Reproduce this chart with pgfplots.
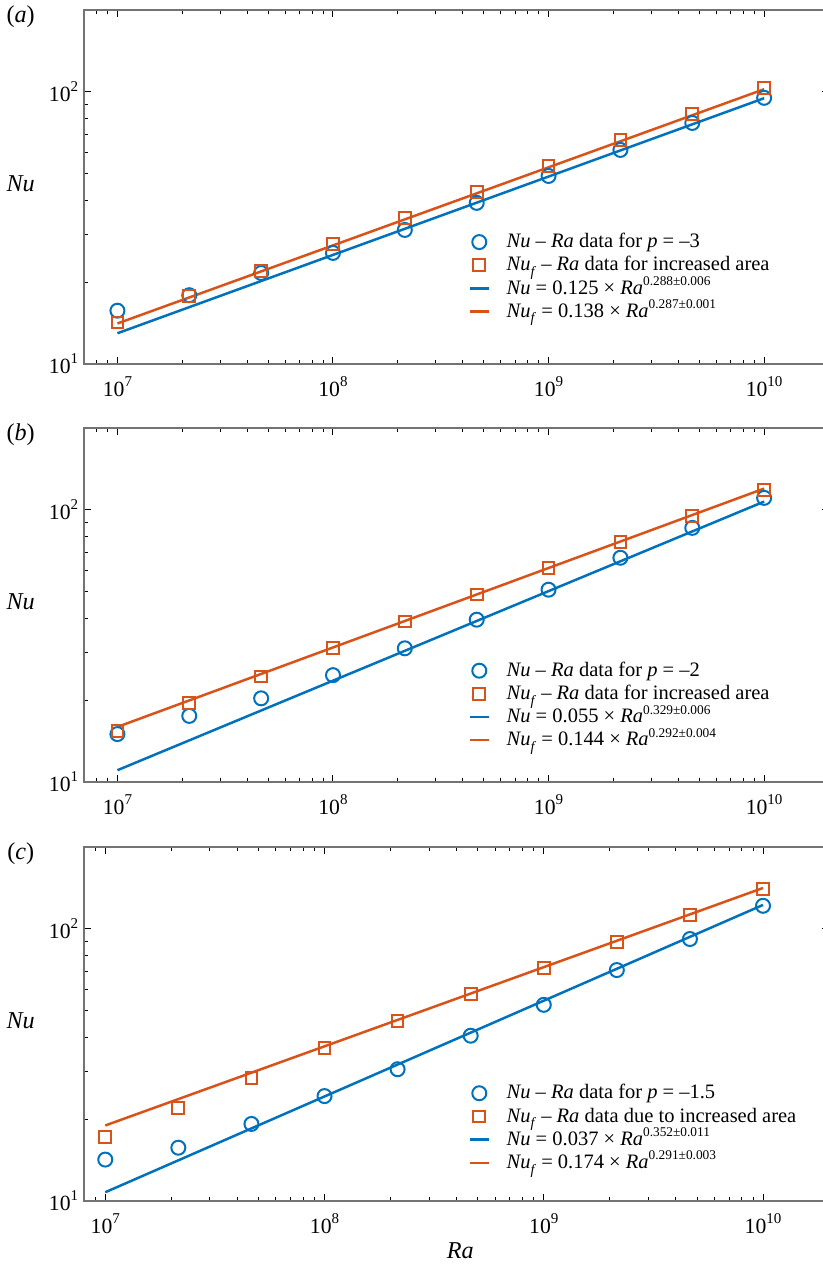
\documentclass[border=0pt]{standalone}
\usepackage{fontspec}
\setmainfont{Liberation Serif}
\usepackage{pgfplots}
\pgfplotsset{compat=1.18}

\definecolor{mblue}{RGB}{0,114,189}
\definecolor{morange}{RGB}{217,83,25}

% super- and subscripts at a fixed size
\newcommand\sps[1]{\raisebox{0.45em}{\fontsize{9}{9}\selectfont #1}}
\newcommand\lsp[1]{\raisebox{0.42em}{\fontsize{8}{8}\selectfont #1}}
\newcommand\sbs[1]{\raisebox{-0.28em}{\fontsize{8.5}{8.5}\selectfont #1}}
\newcommand\Nuf{\textit{Nu}\sbs{\textit{f}}}

\tikzset{lab/.style={font=\fontsize{14.5}{16}\selectfont}}

\pgfplotsset{
  every axis/.append style={
    scale only axis, width=447pt, height=212.4pt,
    xmin=7e6, xmax=2e10, ymin=10, ymax=200,
    anchor=north west, clip=false,
    axis line style={black!55, line width=0.9pt},
    tick style={black, line width=0.6pt},
    tick align=inside,
    major tick length=4pt, minor tick length=2.4pt,
    xtick={1e7,1e8,1e9,1e10},
    xticklabels={10\sps{7},10\sps{8},10\sps{9},10\sps{10}},
    minor xtick={7e6,8e6,9e6,2e7,3e7,4e7,5e7,6e7,7e7,8e7,9e7,
      2e8,3e8,4e8,5e8,6e8,7e8,8e8,9e8,2e9,3e9,4e9,5e9,6e9,7e9,8e9,9e9,2e10},
    ytick={10,100}, yticklabels={10\sps{1},10\sps{2}},
    minor ytick={20,30,40,50,60,70,80,90,200},
    tick label style={font=\fontsize{13}{14}\selectfont},
    xticklabel style={yshift=-4pt},
    legend cell align=left,
    legend image code/.code={\draw[mark repeat=2,mark phase=2,##1]
      plot coordinates {(0cm,0cm) (0.2cm,0cm) (0.4cm,0cm)};},
    legend style={draw=none, fill=none, anchor=north west,
      font=\fontsize{12.3}{13}\selectfont, row sep=1.9pt, column sep=6pt,
      nodes={inner xsep=4pt, inner ysep=0.3pt, text height=9.1pt, text depth=2.3pt}},
  },
  myPts/.style={only marks, line width=1.2pt},
  myFit/.style={no marks, line width=1.5pt},
}

\begin{document}
\begin{tikzpicture}

% ---------- (a) p = -3
\begin{loglogaxis}[at={(50.4pt,-6pt)}, legend style={at={(0.509,0.383)}}]
\addplot[myPts, mblue, mark=o, mark size=4.2pt] coordinates {
  (1e7,15.7) (2.154e7,17.9) (4.642e7,21.6) (1e8,25.6) (2.154e8,31.1)
  (4.642e8,39.1) (1e9,49.1) (2.154e9,61.2) (4.642e9,76.9) (1e10,95.1)};
\addlegendentry{\textit{Nu} – \textit{Ra} data for \textit{p} = –3}
\addplot[myPts, morange, mark=square, mark size=3.5pt] coordinates {
  (1e7,14.2) (2.154e7,17.8) (4.642e7,22.0) (1e8,27.6) (2.154e8,34.4)
  (4.642e8,42.9) (1e9,53.5) (2.154e9,66.7) (4.642e9,83.0) (1e10,103.5)};
\addlegendentry{\Nuf{} – \textit{Ra} data for increased area}
\addplot[myFit, mblue] coordinates {(1e7,12.97) (1e10,94.8)};
\addlegendentry{\textit{Nu} = 0.125 × \textit{Ra}\lsp{0.288±0.006}}
\addplot[myFit, morange] coordinates {(1e7,14.09) (1e10,102.3)};
\addlegendentry{\Nuf{} = 0.138 × \textit{Ra}\lsp{0.287±0.001}}
\node[lab] at (rel axis cs:-0.085,0.98) {(\textit{a})};
\node[lab] at (rel axis cs:-0.085,0.51) {\textit{Nu}};
\end{loglogaxis}

% ---------- (b) p = -2
\begin{loglogaxis}[at={(50.4pt,-256.8pt)}, legend style={at={(0.509,0.353)}}]
\addplot[myPts, mblue, mark=o, mark size=4.2pt] coordinates {
  (1e7,15.0) (2.154e7,17.5) (4.642e7,20.3) (1e8,24.7) (2.154e8,31.0)
  (4.642e8,39.5) (1e9,50.9) (2.154e9,66.7) (4.642e9,85.9) (1e10,110.7)};
\addlegendentry{\textit{Nu} – \textit{Ra} data for \textit{p} = –2}
\addplot[myPts, morange, mark=square, mark size=3.5pt] coordinates {
  (1e7,15.4) (2.154e7,19.5) (4.642e7,24.4) (1e8,31.0) (2.154e8,38.9)
  (4.642e8,48.9) (1e9,61.3) (2.154e9,76.4) (4.642e9,95.1) (1e10,118.3)};
\addlegendentry{\Nuf{} – \textit{Ra} data for increased area}
\addplot[myFit, mblue] coordinates {(1e7,11.05) (1e10,107.3)};
\addlegendentry{\textit{Nu} = 0.055 × \textit{Ra}\lsp{0.329±0.006}}
\addplot[myFit, morange] coordinates {(1e7,15.94) (1e10,119.8)};
\addlegendentry{\Nuf{} = 0.144 × \textit{Ra}\lsp{0.292±0.004}}
\node[lab] at (rel axis cs:-0.085,0.98) {(\textit{b})};
\node[lab] at (rel axis cs:-0.085,0.51) {\textit{Nu}};
\end{loglogaxis}

% ---------- (c) p = -1.5
\begin{loglogaxis}[at={(50.4pt,-508.2pt)}, xmin=8e6, legend style={at={(0.509,0.343)}}]
\addplot[myPts, mblue, mark=o, mark size=4.2pt] coordinates {
  (1e7,14.2) (2.154e7,15.7) (4.642e7,19.2) (1e8,24.3) (2.154e8,30.5)
  (4.642e8,40.5) (1e9,52.6) (2.154e9,70.6) (4.642e9,91.8) (1e10,121.6)};
\addlegendentry{\textit{Nu} – \textit{Ra} data for \textit{p} = –1.5}
\addplot[myPts, morange, mark=square, mark size=3.5pt] coordinates {
  (1e7,17.2) (2.154e7,22.0) (4.642e7,28.3) (1e8,36.5) (2.154e8,45.9)
  (4.642e8,57.7) (1e9,71.9) (2.154e9,89.6) (4.642e9,112.5) (1e10,140.3)};
\addlegendentry{\Nuf{} – \textit{Ra} data due to increased area}
\addplot[myFit, mblue] coordinates {(1e7,10.77) (1e10,122.5)};
\addlegendentry{\textit{Nu} = 0.037 × \textit{Ra}\lsp{0.352±0.011}}
\addplot[myFit, morange] coordinates {(1e7,18.95) (1e10,141.4)};
\addlegendentry{\Nuf{} = 0.174 × \textit{Ra}\lsp{0.291±0.003}}
\node[lab] at (rel axis cs:-0.085,0.98) {(\textit{c})};
\node[lab] at (rel axis cs:-0.085,0.51) {\textit{Nu}};
\node[lab, yshift=-30pt] at (rel axis cs:0.505,0) {\textit{Ra}};
\end{loglogaxis}

\pgfresetboundingbox
\path[use as bounding box] (0,0) rectangle (493.2pt,-759pt);
\end{tikzpicture}
\end{document}
